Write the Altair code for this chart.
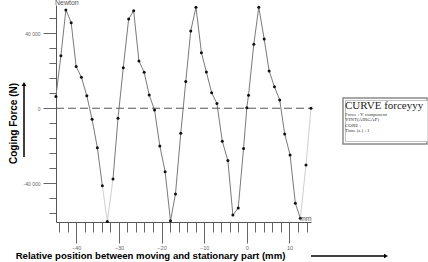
import altair as alt
import pandas as pd

position_mm = [-44.77, -43.6, -42.43, -41.19, -40.02, -38.79, -37.52, -36.29, -35.05, -33.88,
               -32.71, -31.38, -30.21, -28.97, -27.71, -26.54, -25.30, -24.07, -22.90, -21.64,
               -20.40, -19.16, -17.90, -16.73, -15.49, -14.32, -13.15, -11.92, -10.65, -9.49,
               -8.25, -7.01, -5.75, -4.44, -3.27, -2.01, -0.77, 0.0, 0.40, 1.64,
               2.80, 4.07, 5.23, 6.47, 7.71, 8.88, 10.14, 11.38, 12.55, 13.88, 15.05]
force_n = [6200, 28000, 52400, 45600, 22200, 16500, 6600, -5900, -21000, -41300,
           -60400, -37700, -5300, 21600, 47600, 51900, 25200, 19200, 7100, -900,
           -20100, -33800, -59900, -45700, -13300, 14200, 41200, 53800, 29600, 19300,
           8300, 2500, -17600, -27900, -56900, -53100, -21500, 300, 6900, 34100,
           53800, 36900, 19900, 11500, 4400, -13700, -24900, -50600, -58600, -30200, 0]
faint_segment_starts = [9, 10, 48, 49]

x_tick_values = list(range(-44, 16, 2))
y_tick_values = list(range(-56000, 56000, 8000))
legend_lines = ["Force : Y component", "YINT(AIRGAP)", "CORE ;", "Time (s.) : 1"]

W, H = 255, 217
X_DOMAIN = [-44.75, 15.05]
Y_DOMAIN = [-60600, 55000]

seg = pd.DataFrame({
    "x": position_mm[:-1], "x2": position_mm[1:],
    "y": force_n[:-1], "y2": force_n[1:],
    "col": ["#cfcfcf" if i in faint_segment_starts else "#7a7a7a" for i in range(len(force_n) - 1)],
})
pts = pd.DataFrame({"x": position_mm, "y": force_n})

xs = alt.Scale(domain=X_DOMAIN, nice=False, zero=False)
ys = alt.Scale(domain=Y_DOMAIN, nice=False, zero=False)

x_axis = alt.Axis(
    values=x_tick_values, grid=False, title="Relative position between moving and stationary part (mm)",
    labelExpr="datum.value % 10 === 0 ? datum.label : ''",
    tickSize={"condition": {"test": "datum.value % 10 === 0", "value": 21}, "value": 10},
    labelFontSize=5.5, labelColor="#666", labelFont="Liberation Sans", labelPadding=2,
    domainColor="#555", tickColor="#666", labelFlush=False, labelOverlap=False,
    titleFont="Liberation Sans", titleFontWeight="bold", titleFontSize=9.6, titleColor="#000",
    titleX=94, titleY=33, titleAlign="center", titleBaseline="middle", titleAnchor="start",
)
y_axis = alt.Axis(
    values=y_tick_values, grid=False, title="Coging Force (N)",
    labelExpr="datum.value === 0 ? '0' : (datum.value === 40000 ? '40 000' : (datum.value === -40000 ? '-40 000' : ''))",
    tickSize={"condition": {"test": "datum.value % 40000 === 0", "value": 13}, "value": 7},
    labelFontSize=5, labelColor="#666", labelFont="Liberation Sans", labelPadding=3,
    domainColor="#555", tickColor="#666", labelOverlap=False, labelFlush=False,
    titleFont="Liberation Sans", titleFontWeight="bold", titleFontSize=10, titleColor="#000",
    titleAngle=270, titleX=-43, titleY=118, titleAlign="center", titleBaseline="middle", titleAnchor="start",
)

segments = alt.Chart(seg).mark_rule(strokeWidth=1).encode(
    x=alt.X("x:Q", scale=xs, axis=x_axis),
    x2="x2:Q",
    y=alt.Y("y:Q", scale=ys, axis=y_axis),
    y2="y2:Q",
    color=alt.Color("col:N", scale=None, legend=None),
)

zero = alt.Chart(pd.DataFrame({"y": [0]})).mark_rule(color="#555", strokeDash=[8, 4], strokeWidth=1).encode(
    y=alt.Y("y:Q", scale=ys, axis=y_axis), x=alt.value(0), x2=alt.value(W),
)

points = alt.Chart(pts).mark_circle(color="#111", size=9, opacity=1).encode(
    x=alt.X("x:Q", scale=xs, axis=x_axis), y=alt.Y("y:Q", scale=ys, axis=y_axis),
)

one = pd.DataFrame({"a": [0]})

newton = alt.Chart(one).mark_text(text="Newton", fontSize=7, font="Liberation Sans", color="#555555",
                                  align="left", baseline="alphabetic").encode(x=alt.value(-1), y=alt.value(-0.5))
mm = alt.Chart(one).mark_text(text="mm", fontSize=7, font="Liberation Sans", color="#555555",
                              align="left", baseline="middle").encode(x=alt.value(244), y=alt.value(213.5))

yarrow = alt.Chart(one).mark_rule(color="#000", strokeWidth=1.5).encode(
    x=alt.value(-32), y=alt.value(80), y2=alt.value(152))
yhead = alt.Chart(one).mark_point(shape="triangle-up", filled=True, color="#000", size=22, opacity=1).encode(
    x=alt.value(-32), y=alt.value(79))
xarrow = alt.Chart(one).mark_rule(color="#000", strokeWidth=1.5).encode(
    x=alt.value(255), x2=alt.value(329), y=alt.value(251))
xhead = alt.Chart(one).mark_point(shape="triangle-right", filled=True, color="#000", size=22, opacity=1).encode(
    x=alt.value(330), y=alt.value(251))

box_outer = alt.Chart(one).mark_rect(fill="white", stroke="#8a8a8a", strokeWidth=1.5).encode(
    x=alt.value(287), x2=alt.value(371), y=alt.value(93), y2=alt.value(139))
box_inner = alt.Chart(one).mark_rect(fill="white", stroke="#b5b5b5", strokeWidth=0.8).encode(
    x=alt.value(289.5), x2=alt.value(372), y=alt.value(95.5), y2=alt.value(136.5))
curve_title = alt.Chart(one).mark_text(text="CURVE forceyyy", fontSize=11, font="Liberation Serif", color="#222",
                                       align="left", baseline="alphabetic").encode(x=alt.value(289), y=alt.value(104))
leg_layers = [
    alt.Chart(one).mark_text(text=t, fontSize=5, font="Liberation Serif", color="#333",
                             align="left", baseline="middle").encode(x=alt.value(289), y=alt.value(108.5 + i * 5.6))
    for i, t in enumerate(legend_lines)
]

chart = alt.layer(
    segments, zero, points, newton, mm, yarrow, yhead, xarrow, xhead,
    box_outer, box_inner, curve_title, *leg_layers,
).properties(
    width=W, height=H,
    autosize=alt.AutoSizeParams(type="none"),
    padding={"left": 56, "top": 5, "right": 117, "bottom": 40},
    background="white",
).configure_view(stroke=None)

chart.save("out.html", embed_options={"renderer": "svg", "actions": False})
